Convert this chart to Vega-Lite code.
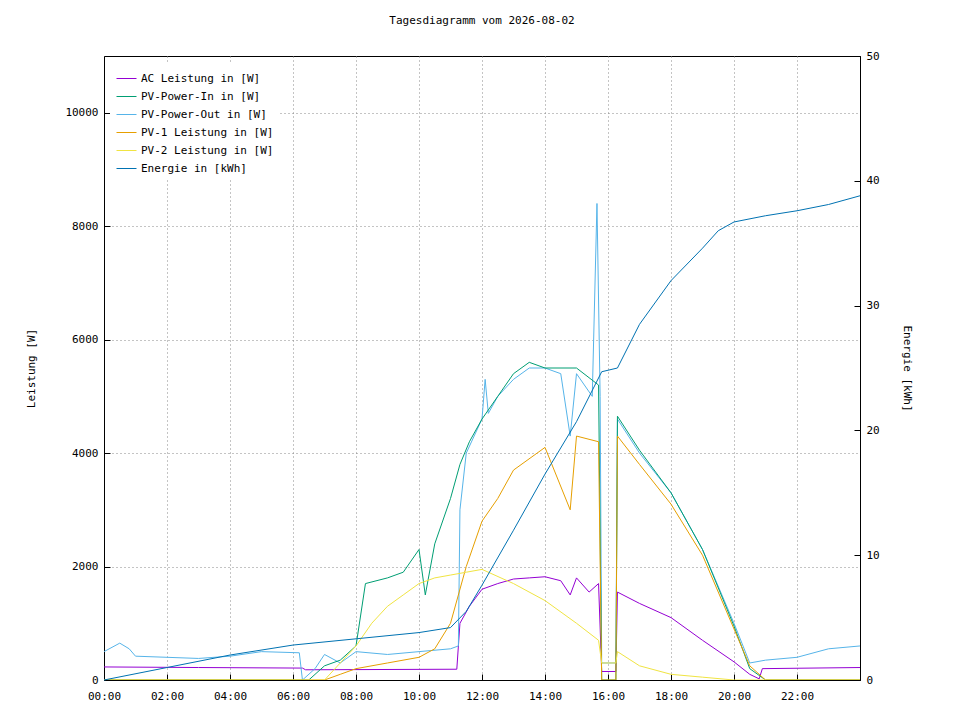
{"$schema":"https://vega.github.io/schema/vega-lite/v6.json","width":756,"height":624,"autosize":{"type":"none"},"padding":{"left":104,"top":56,"right":100,"bottom":40},"background":"white",
"title":{"text":"Tagesdiagramm vom 2026-08-02","font":"DejaVu Sans Mono","fontSize":11,"fontWeight":"normal","offset":24},
"config":{"view":{"stroke":"black"},"font":"DejaVu Sans Mono","axis":{"labelFont":"DejaVu Sans Mono","titleFont":"DejaVu Sans Mono","labelFontSize":11,"titleFontSize":11,"titleFontWeight":"normal","grid":true,"gridDash":[1,3],"gridColor":"#888","tickColor":"black","domainColor":"black","labelColor":"black","labelFlush":false,"labelOverlap":false}},
"datasets":{"d":[
{"t":0,"s":"AC Leistung in [W]","v":230},{"t":3,"s":"AC Leistung in [W]","v":220},{"t":6.3,"s":"AC Leistung in [W]","v":210},{"t":6.4,"s":"AC Leistung in [W]","v":180},{"t":11.2,"s":"AC Leistung in [W]","v":190},{"t":11.3,"s":"AC Leistung in [W]","v":1000},{"t":11.6,"s":"AC Leistung in [W]","v":1300},{"t":12,"s":"AC Leistung in [W]","v":1600},{"t":12.5,"s":"AC Leistung in [W]","v":1700},{"t":13,"s":"AC Leistung in [W]","v":1780},{"t":13.5,"s":"AC Leistung in [W]","v":1800},{"t":14,"s":"AC Leistung in [W]","v":1820},{"t":14.5,"s":"AC Leistung in [W]","v":1750},{"t":14.8,"s":"AC Leistung in [W]","v":1500},{"t":15,"s":"AC Leistung in [W]","v":1800},{"t":15.4,"s":"AC Leistung in [W]","v":1550},{"t":15.7,"s":"AC Leistung in [W]","v":1700},{"t":15.8,"s":"AC Leistung in [W]","v":150},{"t":16.25,"s":"AC Leistung in [W]","v":150},{"t":16.3,"s":"AC Leistung in [W]","v":1550},{"t":17,"s":"AC Leistung in [W]","v":1350},{"t":18,"s":"AC Leistung in [W]","v":1100},{"t":19,"s":"AC Leistung in [W]","v":700},{"t":20,"s":"AC Leistung in [W]","v":320},{"t":20.5,"s":"AC Leistung in [W]","v":100},{"t":20.8,"s":"AC Leistung in [W]","v":20},{"t":20.9,"s":"AC Leistung in [W]","v":200},{"t":24,"s":"AC Leistung in [W]","v":220},

{"t":0,"s":"PV-Power-Out in [W]","v":500},{"t":0.5,"s":"PV-Power-Out in [W]","v":650},{"t":0.8,"s":"PV-Power-Out in [W]","v":550},{"t":1,"s":"PV-Power-Out in [W]","v":420},{"t":3,"s":"PV-Power-Out in [W]","v":380},{"t":4,"s":"PV-Power-Out in [W]","v":420},{"t":5,"s":"PV-Power-Out in [W]","v":500},{"t":6.2,"s":"PV-Power-Out in [W]","v":480},{"t":6.3,"s":"PV-Power-Out in [W]","v":0},{"t":6.7,"s":"PV-Power-Out in [W]","v":200},{"t":7,"s":"PV-Power-Out in [W]","v":450},{"t":7.5,"s":"PV-Power-Out in [W]","v":300},{"t":8,"s":"PV-Power-Out in [W]","v":500},{"t":9,"s":"PV-Power-Out in [W]","v":450},{"t":10,"s":"PV-Power-Out in [W]","v":500},{"t":11,"s":"PV-Power-Out in [W]","v":550},{"t":11.25,"s":"PV-Power-Out in [W]","v":600},{"t":11.3,"s":"PV-Power-Out in [W]","v":3000},{"t":11.5,"s":"PV-Power-Out in [W]","v":4000},{"t":12,"s":"PV-Power-Out in [W]","v":4600},{"t":12.1,"s":"PV-Power-Out in [W]","v":5300},{"t":12.2,"s":"PV-Power-Out in [W]","v":4700},{"t":12.5,"s":"PV-Power-Out in [W]","v":5000},{"t":13,"s":"PV-Power-Out in [W]","v":5300},{"t":13.5,"s":"PV-Power-Out in [W]","v":5500},{"t":14,"s":"PV-Power-Out in [W]","v":5500},{"t":14.5,"s":"PV-Power-Out in [W]","v":5400},{"t":14.8,"s":"PV-Power-Out in [W]","v":4300},{"t":15,"s":"PV-Power-Out in [W]","v":5400},{"t":15.5,"s":"PV-Power-Out in [W]","v":5000},{"t":15.65,"s":"PV-Power-Out in [W]","v":8400},{"t":15.75,"s":"PV-Power-Out in [W]","v":5000},{"t":15.8,"s":"PV-Power-Out in [W]","v":300},{"t":16.25,"s":"PV-Power-Out in [W]","v":300},{"t":16.3,"s":"PV-Power-Out in [W]","v":4600},{"t":17,"s":"PV-Power-Out in [W]","v":4000},{"t":18,"s":"PV-Power-Out in [W]","v":3300},{"t":19,"s":"PV-Power-Out in [W]","v":2300},{"t":20,"s":"PV-Power-Out in [W]","v":1000},{"t":20.5,"s":"PV-Power-Out in [W]","v":300},{"t":21,"s":"PV-Power-Out in [W]","v":350},{"t":22,"s":"PV-Power-Out in [W]","v":400},{"t":23,"s":"PV-Power-Out in [W]","v":550},{"t":24,"s":"PV-Power-Out in [W]","v":600},

{"t":0,"s":"PV-Power-In in [W]","v":0},{"t":6.5,"s":"PV-Power-In in [W]","v":0},{"t":7,"s":"PV-Power-In in [W]","v":250},{"t":7.5,"s":"PV-Power-In in [W]","v":350},{"t":8,"s":"PV-Power-In in [W]","v":600},{"t":8.3,"s":"PV-Power-In in [W]","v":1700},{"t":9,"s":"PV-Power-In in [W]","v":1800},{"t":9.5,"s":"PV-Power-In in [W]","v":1900},{"t":10,"s":"PV-Power-In in [W]","v":2300},{"t":10.2,"s":"PV-Power-In in [W]","v":1500},{"t":10.5,"s":"PV-Power-In in [W]","v":2400},{"t":11,"s":"PV-Power-In in [W]","v":3200},{"t":11.3,"s":"PV-Power-In in [W]","v":3800},{"t":11.6,"s":"PV-Power-In in [W]","v":4200},{"t":12,"s":"PV-Power-In in [W]","v":4600},{"t":12.5,"s":"PV-Power-In in [W]","v":5000},{"t":13,"s":"PV-Power-In in [W]","v":5400},{"t":13.5,"s":"PV-Power-In in [W]","v":5600},{"t":14,"s":"PV-Power-In in [W]","v":5500},{"t":15,"s":"PV-Power-In in [W]","v":5500},{"t":15.7,"s":"PV-Power-In in [W]","v":5200},{"t":15.8,"s":"PV-Power-In in [W]","v":0},{"t":16.25,"s":"PV-Power-In in [W]","v":0},{"t":16.3,"s":"PV-Power-In in [W]","v":4650},{"t":17,"s":"PV-Power-In in [W]","v":4050},{"t":18,"s":"PV-Power-In in [W]","v":3300},{"t":19,"s":"PV-Power-In in [W]","v":2300},{"t":20,"s":"PV-Power-In in [W]","v":950},{"t":20.5,"s":"PV-Power-In in [W]","v":200},{"t":21,"s":"PV-Power-In in [W]","v":0},{"t":24,"s":"PV-Power-In in [W]","v":0},

{"t":0,"s":"PV-1 Leistung in [W]","v":0},{"t":7,"s":"PV-1 Leistung in [W]","v":0},{"t":7.5,"s":"PV-1 Leistung in [W]","v":100},{"t":8,"s":"PV-1 Leistung in [W]","v":200},{"t":9,"s":"PV-1 Leistung in [W]","v":300},{"t":10,"s":"PV-1 Leistung in [W]","v":400},{"t":10.5,"s":"PV-1 Leistung in [W]","v":550},{"t":11,"s":"PV-1 Leistung in [W]","v":1000},{"t":11.5,"s":"PV-1 Leistung in [W]","v":2000},{"t":12,"s":"PV-1 Leistung in [W]","v":2800},{"t":12.5,"s":"PV-1 Leistung in [W]","v":3200},{"t":13,"s":"PV-1 Leistung in [W]","v":3700},{"t":14,"s":"PV-1 Leistung in [W]","v":4100},{"t":14.8,"s":"PV-1 Leistung in [W]","v":3000},{"t":15,"s":"PV-1 Leistung in [W]","v":4300},{"t":15.7,"s":"PV-1 Leistung in [W]","v":4200},{"t":15.8,"s":"PV-1 Leistung in [W]","v":0},{"t":16.25,"s":"PV-1 Leistung in [W]","v":0},{"t":16.3,"s":"PV-1 Leistung in [W]","v":4300},{"t":17,"s":"PV-1 Leistung in [W]","v":3800},{"t":18,"s":"PV-1 Leistung in [W]","v":3100},{"t":19,"s":"PV-1 Leistung in [W]","v":2200},{"t":20,"s":"PV-1 Leistung in [W]","v":900},{"t":20.5,"s":"PV-1 Leistung in [W]","v":250},{"t":21,"s":"PV-1 Leistung in [W]","v":0},{"t":24,"s":"PV-1 Leistung in [W]","v":0},

{"t":0,"s":"PV-2 Leistung in [W]","v":0},{"t":7,"s":"PV-2 Leistung in [W]","v":0},{"t":7.5,"s":"PV-2 Leistung in [W]","v":300},{"t":8,"s":"PV-2 Leistung in [W]","v":600},{"t":8.5,"s":"PV-2 Leistung in [W]","v":1000},{"t":9,"s":"PV-2 Leistung in [W]","v":1300},{"t":9.5,"s":"PV-2 Leistung in [W]","v":1500},{"t":10,"s":"PV-2 Leistung in [W]","v":1700},{"t":10.5,"s":"PV-2 Leistung in [W]","v":1800},{"t":11,"s":"PV-2 Leistung in [W]","v":1850},{"t":11.5,"s":"PV-2 Leistung in [W]","v":1900},{"t":12,"s":"PV-2 Leistung in [W]","v":1950},{"t":13,"s":"PV-2 Leistung in [W]","v":1700},{"t":14,"s":"PV-2 Leistung in [W]","v":1400},{"t":15,"s":"PV-2 Leistung in [W]","v":1000},{"t":15.7,"s":"PV-2 Leistung in [W]","v":700},{"t":15.8,"s":"PV-2 Leistung in [W]","v":300},{"t":16.25,"s":"PV-2 Leistung in [W]","v":300},{"t":16.3,"s":"PV-2 Leistung in [W]","v":500},{"t":17,"s":"PV-2 Leistung in [W]","v":250},{"t":18,"s":"PV-2 Leistung in [W]","v":100},{"t":19,"s":"PV-2 Leistung in [W]","v":50},{"t":20,"s":"PV-2 Leistung in [W]","v":0},{"t":24,"s":"PV-2 Leistung in [W]","v":0},

{"t":0,"s":"Energie in [kWh]","v":0},{"t":4,"s":"Energie in [kWh]","v":2.0},{"t":6,"s":"Energie in [kWh]","v":2.8},{"t":8,"s":"Energie in [kWh]","v":3.3},{"t":10,"s":"Energie in [kWh]","v":3.8},{"t":11,"s":"Energie in [kWh]","v":4.2},{"t":11.5,"s":"Energie in [kWh]","v":5.5},{"t":12,"s":"Energie in [kWh]","v":7.6},{"t":13,"s":"Energie in [kWh]","v":12},{"t":14,"s":"Energie in [kWh]","v":16.5},{"t":15,"s":"Energie in [kWh]","v":20.7},{"t":15.8,"s":"Energie in [kWh]","v":24.7},{"t":16.3,"s":"Energie in [kWh]","v":25},{"t":17,"s":"Energie in [kWh]","v":28.5},{"t":18,"s":"Energie in [kWh]","v":32},{"t":19,"s":"Energie in [kWh]","v":34.6},{"t":19.5,"s":"Energie in [kWh]","v":36},{"t":20,"s":"Energie in [kWh]","v":36.7},{"t":21,"s":"Energie in [kWh]","v":37.2},{"t":22,"s":"Energie in [kWh]","v":37.6},{"t":23,"s":"Energie in [kWh]","v":38.1},{"t":24,"s":"Energie in [kWh]","v":38.8}
]},
"data":{"name":"d"},
"layer":[
{"transform":[{"filter":"datum.s !== 'Energie in [kWh]'"}],"mark":{"type":"line","strokeWidth":1,"clip":true},
"encoding":{"x":{"field":"t","type":"quantitative","scale":{"domain":[0,24],"nice":false},"axis":{"values":[0,2,4,6,8,10,12,14,16,18,20,22],"labelExpr":"(datum.value<10?'0':'')+datum.value+':00'","title":null,"tickSize":-6,"labelPadding":16}},
"y":{"field":"v","type":"quantitative","scale":{"domain":[0,11000],"nice":false},"axis":{"values":[0,2000,4000,6000,8000,10000],"format":"d","title":"Leistung [W]","tickSize":-6,"labelPadding":12,"titlePadding":28}},
"color":{"field":"s","type":"nominal","sort":null,"scale":{"domain":["AC Leistung in [W]","PV-Power-In in [W]","PV-Power-Out in [W]","PV-1 Leistung in [W]","PV-2 Leistung in [W]","Energie in [kWh]"],"range":["#9400d3","#009e73","#56b4e9","#e69f00","#f0e442","#0072b2"]},
"legend":{"title":null,"orient":"top-left","offset":6,"fillColor":"white","symbolType":"stroke","symbolSize":400,"symbolStrokeWidth":1,"labelFont":"DejaVu Sans Mono","labelFontSize":11,"padding":6}}}},
{"transform":[{"filter":"datum.s === 'Energie in [kWh]'"}],"mark":{"type":"line","strokeWidth":1},
"encoding":{"x":{"field":"t","type":"quantitative"},
"y":{"field":"v","type":"quantitative","scale":{"domain":[0,50],"nice":false},"axis":{"orient":"right","values":[0,10,20,30,40,50],"title":"Energie [kWh]","grid":false,"tickSize":-6,"labelPadding":12,"titlePadding":22}},
"color":{"field":"s","type":"nominal"}}}
],
"resolve":{"scale":{"y":"independent"}}}
